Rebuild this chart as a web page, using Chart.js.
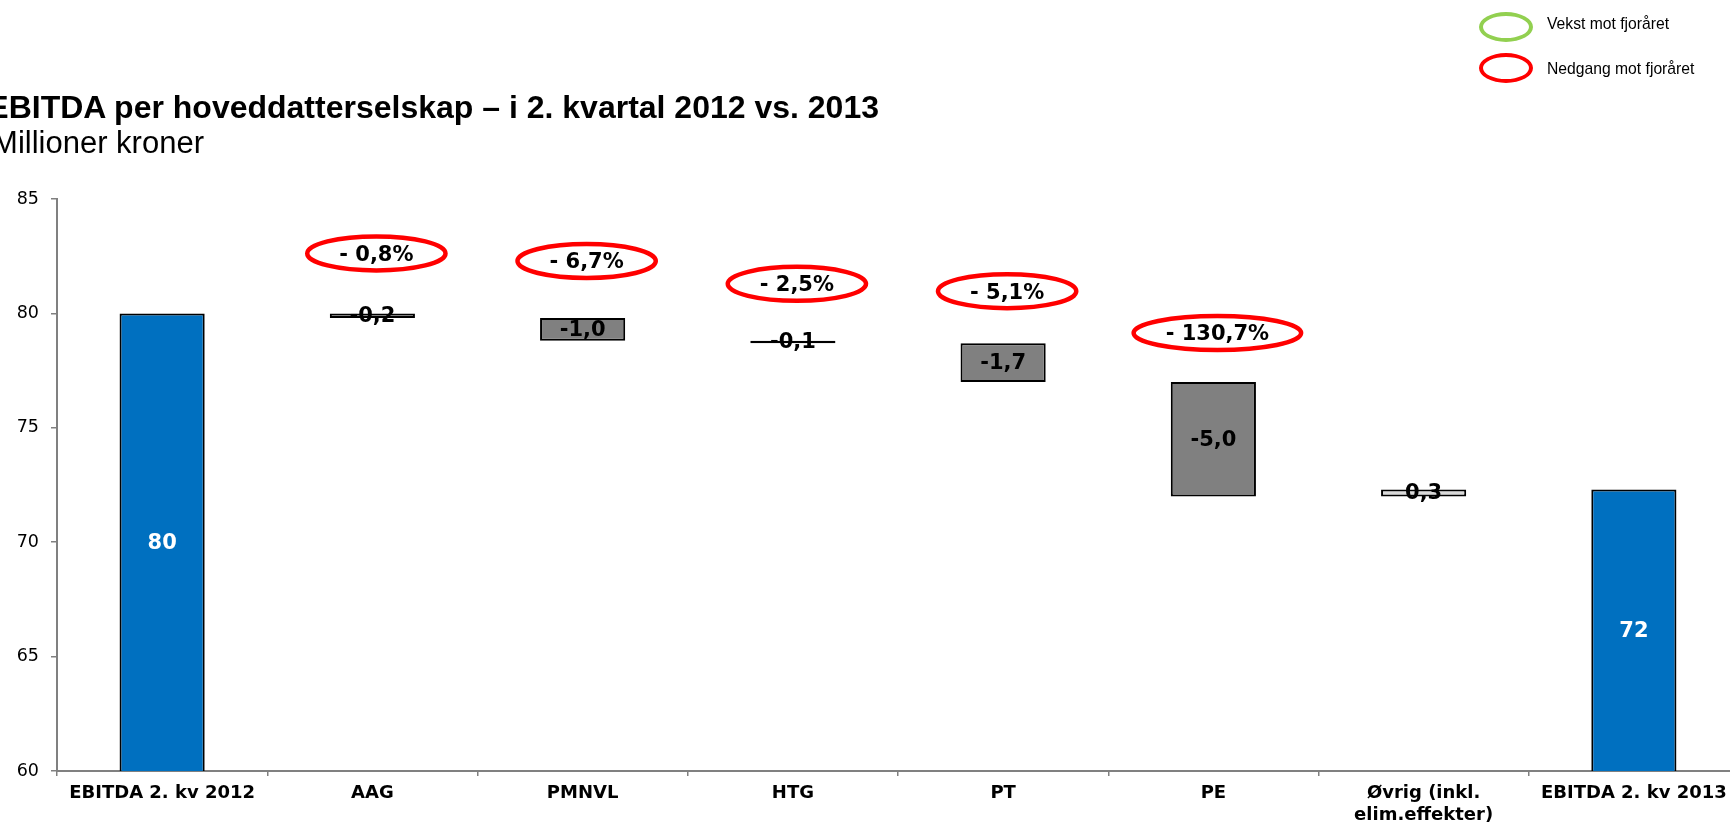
<!DOCTYPE html>
<html>
<head>
<meta charset="utf-8">
<script src="https://cdn.jsdelivr.net/npm/chart.js@4.4.1/dist/chart.umd.min.js"></script>
<style>
  html, body { margin: 0; padding: 0; width: 1730px; height: 831px; overflow: hidden; background: #fff; }
  #wrap { position: absolute; left: 0; top: 0; width: 1745px; height: 831px; }
  .title { position: absolute; white-space: nowrap; font-family: "Liberation Sans", Arial, sans-serif; color: #000; }
  #t1 { right: 851px; top: 88px; font-size: 32px; font-weight: bold; line-height: 38px; }
  #t2 { right: 1526px; top: 125px; font-size: 31px; line-height: 36px; }
  .leg-ell { position: absolute; width: 54px; height: 30px; box-sizing: border-box; border-radius: 50%; border: 4px solid; }
  .leg-txt { position: absolute; left: 1547px; font-family: "Liberation Sans", Arial, sans-serif; font-size: 15.7px; line-height: 20px; color: #000; white-space: nowrap; }
</style>
</head>
<body>
<div id="wrap"><canvas id="c"></canvas></div>
<div class="title" id="t1">EBITDA per hoveddatterselskap – i 2. kvartal 2012 vs. 2013</div>
<div class="title" id="t2">Millioner kroner</div>
<div class="leg-ell" style="left:1479px;top:12px;border-color:#92D050;"></div>
<div class="leg-txt" style="top:14px;">Vekst mot fjoråret</div>
<div class="leg-ell" style="left:1479px;top:53px;border-color:#FF0000;"></div>
<div class="leg-txt" style="top:59px;">Nedgang mot fjoråret</div>
<script>
// ---- data ----
const categories = ['EBITDA 2. kv 2012', 'AAG', 'PMNVL', 'HTG', 'PT', 'PE', ['Øvrig (inkl.', 'elim.effekter)'], 'EBITDA 2. kv 2013'];
const startTotal = 80.0;
const changes = [-0.2, -1.0, -0.1, -1.7, -5.0, 0.3];
const endTotal = 72.3;
const valueLabels = ['80', '-0,2', '-1,0', '-0,1', '-1,7', '-5,0', '0,3', '72'];
const pctLabels = [null, '- 0,8%', '- 6,7%', '- 2,5%', '- 5,1%', '- 130,7%', null, null];
const yTicks = [60, 65, 70, 75, 80, 85];

// ---- build waterfall ----
const barData = [startTotal];
const barKinds = ['total'];
let running = startTotal;
changes.forEach(c => {
  const next = Math.round((running + c) * 10) / 10;
  barData.push([Math.min(running, next), Math.max(running, next)]);
  barKinds.push(c < 0 ? 'neg' : 'pos');
  running = next;
});
barData.push(endTotal);
barKinds.push('total');

const kindColors = { total: '#0070C0', neg: '#808080', pos: '#D9D9D9' };
const FONT = '"DejaVu Sans", sans-serif';

const annotPlugin = {
  id: 'annot',
  afterDatasetsDraw(chart, args, opts) {
    const ctx = chart.ctx;
    const area = chart.chartArea;
    const meta = chart.getDatasetMeta(0);
    meta.data.forEach((bar, i) => {
      const top = Math.min(bar.y, bar.base);
      const bottom = Math.min(Math.max(bar.y, bar.base), area.bottom);
      const cy = (top + bottom) / 2;
      ctx.save();
      ctx.font = 'bold 21px ' + FONT;
      ctx.textAlign = 'center';
      ctx.textBaseline = 'middle';
      ctx.fillStyle = barKinds[i] === 'total' ? '#FFFFFF' : '#000000';
      ctx.fillText(valueLabels[i], bar.x, cy + 1);
      if (pctLabels[i]) {
        const off = opts.offsets[i] || 55;
        const ex = bar.x + 4;
        const ey = top - off;
        const tw = ctx.measureText(pctLabels[i]).width;
        const rx = tw / 2 + 32;
        const ry = 17;
        ctx.beginPath();
        ctx.ellipse(ex, ey, rx, ry, 0, 0, Math.PI * 2);
        ctx.lineWidth = 4.5;
        ctx.strokeStyle = '#FF0000';
        ctx.stroke();
        ctx.fillStyle = '#000000';
        ctx.fillText(pctLabels[i], ex, ey + 2);
      }
      ctx.restore();
    });
  }
};

new Chart(document.getElementById('c'), {
  type: 'bar',
  data: {
    labels: categories,
    datasets: [{
      data: barData,
      backgroundColor: barKinds.map(k => kindColors[k]),
      borderColor: '#000000',
      borderWidth: 2,
      borderSkipped: false,
      barPercentage: 0.405,
      categoryPercentage: 1.0
    }]
  },
  options: {
    responsive: true,
    maintainAspectRatio: false,
    animation: false,
    layout: { padding: { top: 199, right: 6, bottom: 0, left: 0 } },
    plugins: {
      legend: { display: false },
      tooltip: { enabled: false },
      annot: { offsets: [0, 60, 57, 57, 52, 49, 0, 0] }
    },
    scales: {
      x: {
        offset: true,
        grid: { display: true, offset: true, drawOnChartArea: false, drawTicks: true, tickLength: 5, color: '#808080', lineWidth: 1.5 },
        border: { display: true, color: '#808080', width: 2 },
        ticks: { color: '#000', font: { family: FONT, size: 18, weight: 'bold', lineHeight: 1.25 }, padding: 6, maxRotation: 0, autoSkip: false },
        afterFit(scale) { scale.height = 60; }
      },
      y: {
        min: 60, max: 85,
        afterBuildTicks(scale) { scale.ticks = yTicks.map(v => ({ value: v })); },
        grid: { display: true, drawOnChartArea: false, drawTicks: true, tickLength: 6, color: '#808080', lineWidth: 1.5 },
        border: { display: true, color: '#808080', width: 2 },
        ticks: { color: '#000', font: { family: FONT, size: 17.5 }, padding: 12 },
        afterFit(scale) { scale.width = 57; }
      }
    }
  },
  plugins: [annotPlugin]
});
</script>
</body>
</html>
